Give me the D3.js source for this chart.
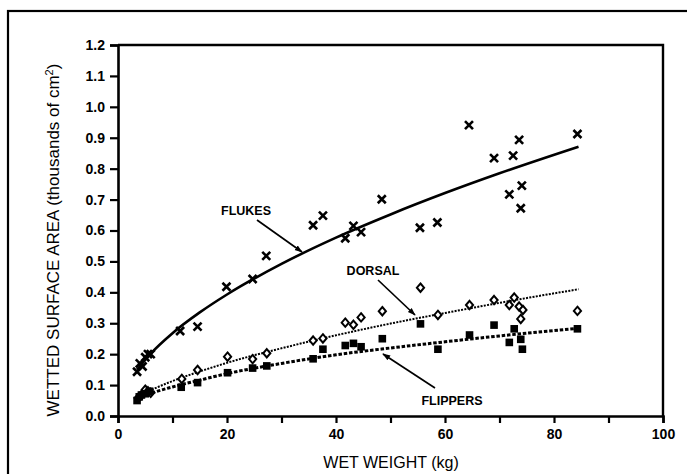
<!DOCTYPE html>
<html>
<head>
<meta charset="utf-8">
<script src="https://cdn.jsdelivr.net/npm/d3@7"></script>
<style>
  html, body { margin: 0; padding: 0; background: #fff; }
  svg { display: block; }
  text { font-family: "Liberation Sans", Arial, Helvetica, sans-serif; fill: #000; }
</style>
</head>
<body>
<svg id="chart" width="687" height="474"></svg>
<script>
// Wetted surface area of appendages vs. wet weight
const flukesX = [3.5, 4.0, 4.5, 5.0, 5.5, 6.0, 11.4, 14.6, 19.9, 24.7, 27.2, 35.8, 37.6, 41.7, 43.2, 44.6, 48.4, 55.4, 58.6, 64.4, 69.0, 71.8, 72.5, 73.6, 73.9, 74.1, 84.3];
const flukesY = [0.143, 0.170, 0.160, 0.190, 0.200, 0.200, 0.275, 0.289, 0.418, 0.443, 0.518, 0.617, 0.648, 0.575, 0.615, 0.595, 0.701, 0.609, 0.626, 0.941, 0.834, 0.717, 0.842, 0.893, 0.672, 0.745, 0.912];

const dorsalX = [3.7, 4.3, 5.0, 5.5, 6.0, 11.7, 14.6, 20.1, 24.7, 27.3, 35.8, 37.6, 41.7, 43.2, 44.6, 48.5, 55.5, 58.7, 64.5, 69.0, 71.8, 72.7, 73.6, 73.9, 74.3, 84.3];
const dorsalY = [0.058, 0.068, 0.085, 0.080, 0.075, 0.120, 0.149, 0.192, 0.184, 0.203, 0.244, 0.251, 0.302, 0.295, 0.319, 0.339, 0.415, 0.327, 0.359, 0.375, 0.359, 0.383, 0.354, 0.314, 0.343, 0.340];

const flippersX = [3.5, 3.9, 4.3, 5.0, 5.8, 11.6, 14.6, 20.1, 24.7, 27.3, 35.8, 37.6, 41.7, 43.2, 44.6, 48.5, 55.5, 58.7, 64.5, 69.0, 71.8, 72.7, 73.9, 74.2, 84.3];
const flippersY = [0.050, 0.062, 0.068, 0.072, 0.080, 0.093, 0.108, 0.140, 0.155, 0.162, 0.185, 0.216, 0.228, 0.235, 0.224, 0.250, 0.298, 0.216, 0.262, 0.294, 0.238, 0.282, 0.248, 0.216, 0.282];

// fitted curves, sampled along the weight range
const curveX = [3.5, 6, 10, 15, 20, 30, 40, 50, 60, 70, 84.5];
const flukesFit = [0.150, 0.202, 0.268, 0.335, 0.393, 0.492, 0.577, 0.652, 0.721, 0.785, 0.871];
const dorsalFit = [0.060, 0.083, 0.113, 0.144, 0.172, 0.219, 0.261, 0.299, 0.333, 0.366, 0.410];
const flippersFit = [0.055, 0.073, 0.094, 0.116, 0.137, 0.170, 0.198, 0.220, 0.240, 0.259, 0.284];

const yTicks = [0, 0.1, 0.2, 0.3, 0.4, 0.5, 0.6, 0.7, 0.8, 0.9, 1.0, 1.1, 1.2];
const xTicks = [0, 10, 20, 30, 40, 50, 60, 70, 80, 90, 100];
const xTickLabels = [0, 20, 40, 60, 80, 100];

const svg = d3.select("#chart");

const x = d3.scaleLinear().domain([0, 100]).range([118, 663]);
const y = d3.scaleLinear().domain([0, 1.2]).range([416, 45]);

// outer frame
svg.append("rect")
  .attr("x", 8).attr("y", 11).attr("width", 700).attr("height", 500)
  .attr("fill", "none").attr("stroke", "#000").attr("stroke-width", 2.2);

// plot box (top and right edges)
svg.append("path")
  .attr("d", `M${x(0)},${y(1.2)}H${x(100)}V${y(0)}`)
  .attr("fill", "none").attr("stroke", "#000").attr("stroke-width", 2.4);

// axes
const yAxis = d3.axisLeft(y).tickValues(yTicks).tickFormat(d3.format(".1f")).tickSize(8).tickPadding(5);
const gy = svg.append("g").attr("transform", `translate(${x(0)},0)`).call(yAxis);
gy.select(".domain").attr("stroke-width", 2.6);
gy.selectAll(".tick line").attr("stroke-width", 2.2);
gy.selectAll(".tick text").attr("font-size", 14).attr("font-weight", "bold")
  .attr("font-family", "Liberation Sans, Arial, sans-serif");

const xAxis = d3.axisBottom(x).tickValues(xTicks)
  .tickFormat(d => xTickLabels.includes(d) ? d3.format("d")(d) : "")
  .tickSize(7).tickPadding(6);
const gx = svg.append("g").attr("transform", `translate(0,${y(0)})`).call(xAxis);
gx.select(".domain").attr("stroke-width", 2.6);
gx.selectAll(".tick line").attr("stroke-width", 2.2);
gx.selectAll(".tick text").attr("font-size", 14).attr("font-weight", "bold")
  .attr("font-family", "Liberation Sans, Arial, sans-serif");

// axis titles
svg.append("text")
  .attr("x", 391).attr("y", 468)
  .attr("text-anchor", "middle").attr("font-size", 16)
  .text("WET WEIGHT (kg)");

const yt = svg.append("text")
  .attr("transform", `translate(59,240) rotate(-90)`)
  .attr("text-anchor", "middle").attr("font-size", 17);
yt.append("tspan").text("WETTED SURFACE AREA (thousands of cm");
yt.append("tspan").attr("baseline-shift", "super").attr("font-size", 11).text("2");
yt.append("tspan").text(")");

// fitted curves
const line = d3.line().x(d => x(d[0])).y(d => y(d[1])).curve(d3.curveMonotoneX);
svg.append("path").datum(curveX.map((v, i) => [v, flukesFit[i]]))
  .attr("d", line).attr("fill", "none").attr("stroke", "#000").attr("stroke-width", 2.6);
svg.append("path").datum(curveX.map((v, i) => [v, dorsalFit[i]]))
  .attr("d", line).attr("fill", "none").attr("stroke", "#000").attr("stroke-width", 2)
  .attr("stroke-dasharray", "2,1.3");
svg.append("path").datum(curveX.map((v, i) => [v, flippersFit[i]]))
  .attr("d", line).attr("fill", "none").attr("stroke", "#000").attr("stroke-width", 3)
  .attr("stroke-dasharray", "3.5,1.8");

// markers
const flukePts = flukesX.map((v, i) => [v, flukesY[i]]);
svg.append("g").selectAll("path").data(flukePts).join("path")
  .attr("transform", d => `translate(${x(d[0])},${y(d[1])})`)
  .attr("d", "M-4,-4L4,4M-4,4L4,-4")
  .attr("stroke", "#000").attr("stroke-width", 2.6).attr("fill", "none");

const dorsalPts = dorsalX.map((v, i) => [v, dorsalY[i]]);
svg.append("g").selectAll("path").data(dorsalPts).join("path")
  .attr("transform", d => `translate(${x(d[0])},${y(d[1])})`)
  .attr("d", "M0,-4.2L3.6,0L0,4.2L-3.6,0Z")
  .attr("stroke", "#000").attr("stroke-width", 2).attr("fill", "#fff");

const flipperPts = flippersX.map((v, i) => [v, flippersY[i]]);
svg.append("g").selectAll("rect").data(flipperPts).join("rect")
  .attr("x", d => x(d[0]) - 3.8).attr("y", d => y(d[1]) - 3.8)
  .attr("width", 7.6).attr("height", 7.6).attr("fill", "#000");

// callout labels with arrows
const defs = svg.append("defs");
defs.append("marker").attr("id", "ah").attr("viewBox", "0 0 10 10")
  .attr("refX", 9).attr("refY", 5).attr("markerWidth", 8).attr("markerHeight", 8)
  .attr("markerUnits", "userSpaceOnUse").attr("orient", "auto")
  .append("path").attr("d", "M0,1.5L10,5L0,8.5Z").attr("fill", "#000");

const callouts = [
  { text: "FLUKES", tx: 246, ty: 215, from: [257, 220], to: [302, 252] },
  { text: "DORSAL", tx: 373, ty: 275, from: [378, 280], to: [415, 315] },
  { text: "FLIPPERS", tx: 452, ty: 405, from: [435, 388], to: [383, 354] }
];
const cg = svg.append("g");
callouts.forEach(c => {
  cg.append("text").attr("x", c.tx).attr("y", c.ty).attr("text-anchor", "middle")
    .attr("font-size", 12.5).attr("font-weight", "bold").text(c.text);
  cg.append("line").attr("x1", c.from[0]).attr("y1", c.from[1])
    .attr("x2", c.to[0]).attr("y2", c.to[1])
    .attr("stroke", "#000").attr("stroke-width", 1.7).attr("marker-end", "url(#ah)");
});
</script>
</body>
</html>
